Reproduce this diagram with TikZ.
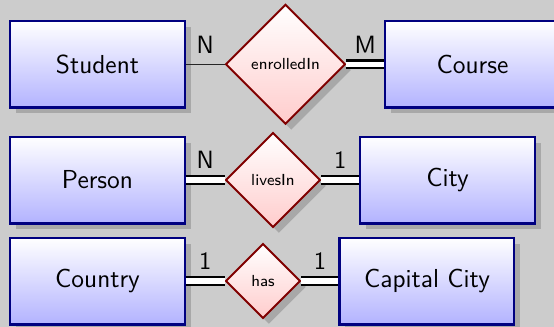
\documentclass[tikz,border=0pt]{standalone}
\usetikzlibrary{shapes.geometric,shadows}

\definecolor{bggray}{gray}{0.8}
\definecolor{shadowgray}{RGB}{168,168,168}

\tikzset{
  boxshadow/.style={drop shadow={fill=shadowgray, opacity=1, shadow xshift=2.9pt, shadow yshift=-2.9pt}},
  entity/.style={rectangle, draw=blue!50!black, line width=1.2pt,
    top color=white, bottom color=blue!30,
    minimum width=87.3pt, minimum height=43.3pt,
    font=\sffamily\fontsize{13}{15}\selectfont, boxshadow},
  relationship/.style={diamond, aspect=1, draw=red!50!black, line width=1pt,
    top color=white, bottom color=red!20, inner sep=5pt,
    font=\sffamily\fontsize{8}{9.6}\selectfont, boxshadow},
  partial/.style={draw=black!85, line width=0.5pt},
  total/.style={draw=black, double=white, line width=1.2pt, double distance=2.6pt},
  card/.style={above, inner sep=5pt, font=\sffamily\fontsize{12.5}{15}\selectfont}
}

\begin{document}
\begin{tikzpicture}[x=0.5pt, y=-0.5pt]
  % canvas
  \path[use as bounding box, fill=bggray] (0,0) rectangle (554,327);

  % students and courses
  \node[entity] (student) at (97.5,64.3) {Student};
  \node[relationship] (enrolled) at (285.5,64.3) {enrolledIn};
  \node[entity] (course) at (472.5,64.3) {Course};

  % people and cities
  \node[entity] (person) at (97.5,180) {Person};
  \node[relationship] (lives) at (273,180) {livesIn};
  \node[entity] (city) at (447.5,180) {City};

  % countries and capitals
  \node[entity] (country) at (97.5,281) {Country};
  \node[relationship] (has) at (263,281) {has};
  \node[entity] (capital) at (427,281) {Capital City};

  % participation lines with cardinalities
  \draw[partial] (student) -- node[card] {N} (enrolled);
  \draw[total] (enrolled) -- node[card] {M} (course);
  \draw[total] (person) -- node[card] {N} (lives);
  \draw[total] (lives) -- node[card] {1} (city);
  \draw[total] (country) -- node[card] {1} (has);
  \draw[total] (has) -- node[card] {1} (capital);
\end{tikzpicture}
\end{document}
